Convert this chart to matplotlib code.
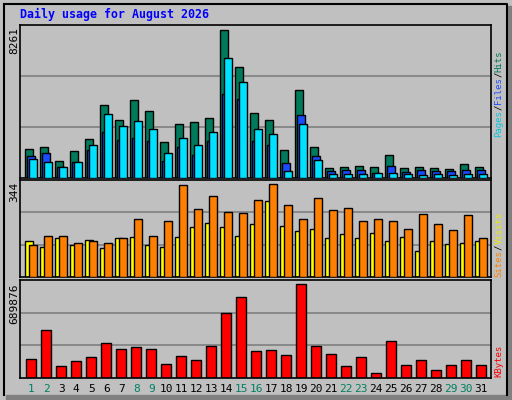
import matplotlib
matplotlib.use("Agg")
import matplotlib.pyplot as plt
import numpy as np
from matplotlib.patches import Rectangle

days = list(range(1, 32))
weekend = [1, 2, 8, 9, 15, 16, 22, 23, 29, 30]
hits = [1630,1742,955,1517,2192,4046,3203,4327,3709,2023,2979,3091,3316,8261,6182,3597,3203,1574,4889,1742,562,618,674,618,1293,562,618,562,506,787,618]
files = [1236,1405,618,899,1574,2585,2136,2248,2079,955,1742,1293,2079,4665,4384,2079,1855,843,3484,1236,393,450,450,281,674,337,450,393,393,450,450]
pages = [1068,899,618,899,1855,3541,2922,3147,2754,1405,2248,1855,2585,6688,5339,2754,2473,393,2979,1012,225,225,225,281,281,225,169,225,169,225,225]
visits = [132,113,143,120,139,109,143,150,117,113,150,184,199,184,154,195,281,188,169,180,143,161,143,165,135,147,98,132,124,128,135]
sites = [120,154,154,128,135,128,143,214,154,206,340,251,299,243,236,284,344,266,217,292,247,255,206,214,206,180,232,195,176,229,143]
kbytes = [138479,357528,85605,123372,153586,259334,214013,229120,214013,100712,161139,130926,236673,478382,599236,198906,206460,168693,689876,236673,176246,85605,153586,40285,274440,93159,130926,55392,93159,130926,93159]
title = "Daily usage for August 2026"

W, H = 512, 400
BG = "#c0c0c0"
MONO = "DejaVu Sans Mono"
fig = plt.figure(figsize=(W/100, H/100), dpi=100, facecolor=BG)

bg = fig.add_axes([0, 0, 1, 1]); bg.set_xlim(0, W); bg.set_ylim(H, 0); bg.axis("off")
bg.plot([4, 507, 507], [4, 4, 395], color="black", lw=1.5)
bg.plot([4, 4], [4, 395], color="black", lw=1.5)
bg.add_patch(Rectangle((507, 6), 5, 394, color="#808080"))
bg.add_patch(Rectangle((6, 395), 506, 5, color="#808080"))
bg.text(20, 14, title, color="#0000ff", fontsize=8.4, fontweight="bold", family=MONO, va="center", ha="left")

x = np.array(days, dtype=float)
X0, X1 = 20, 491
xl = (1 - (31.3 - X0) / 15, 1 + (X1 - 31.3) / 15)

def panel(top, bot, ymax):
    ax = fig.add_axes([X0 / W, 1 - bot / H, (X1 - X0) / W, (bot - top) / H])
    ax.set_facecolor(BG)
    ax.set_xlim(*xl); ax.set_ylim(0, ymax)
    ax.set_xticks([]); ax.set_yticks([])
    for y in (ymax / 3, 2 * ymax / 3):
        ax.axhline(y, color="#808080", lw=1.2, zorder=0)
    for s in ax.spines.values():
        s.set_color("black"); s.set_linewidth(1.2)
    return ax

ek = dict(edgecolor="black", linewidth=1.0)
ax1 = panel(25, 178, 8519)
ax1.bar(x - 0.15, hits, 0.49, color="#007a5a", zorder=2, **ek)
ax1.bar(x - 0.02, files, 0.49, color="#1a4cff", zorder=3, **ek)
ax1.bar(x + 0.11, pages, 0.49, color="#00e0ff", zorder=4, **ek)

ax2 = panel(180, 277, 360)
ax2.bar(x - 0.13, visits, 0.53, color="#ffff00", zorder=2, **ek)
ax2.bar(x + 0.11, sites, 0.49, color="#ff8000", zorder=3, **ek)

ax3 = panel(280, 378, 722607)
ax3.bar(x, kbytes, 0.66, color="#ff0000", zorder=2, **ek)

fs = 8
bg.text(14, 27, "8261", rotation=90, ha="center", va="top", fontsize=fs, family=MONO)
bg.text(14, 182, "344", rotation=90, ha="center", va="top", fontsize=fs, family=MONO)
bg.text(14, 283, "689876", rotation=90, ha="center", va="top", fontsize=fs, family=MONO)

rfs = 6.5
cw = 0.602 * rfs * 100 / 72
def vlabel(parts, ybottom, xpos=499):
    y = ybottom
    for txt, col in parts:
        bg.text(xpos, y, txt, rotation=90, ha="center", va="bottom", color=col,
                fontsize=rfs, family=MONO)
        y -= cw * len(txt)
vlabel([("Pages", "#00c8e0"), ("/", "black"), ("Files", "#1a4cff"), ("/", "black"), ("Hits", "#007a5a")], 137)
vlabel([("Sites", "#ff8000"), ("/", "black"), ("Visits", "#e8e800")], 277)
vlabel([("KBytes", "#ff0000")], 377)

for d in days:
    px = 31.3 + (d - 1) * 15
    bg.text(px, 389, str(d), ha="center", va="center", fontsize=fs, family=MONO,
            color="#008060" if d in weekend else "black")

fig.savefig("out.png", dpi=100, facecolor=BG)
